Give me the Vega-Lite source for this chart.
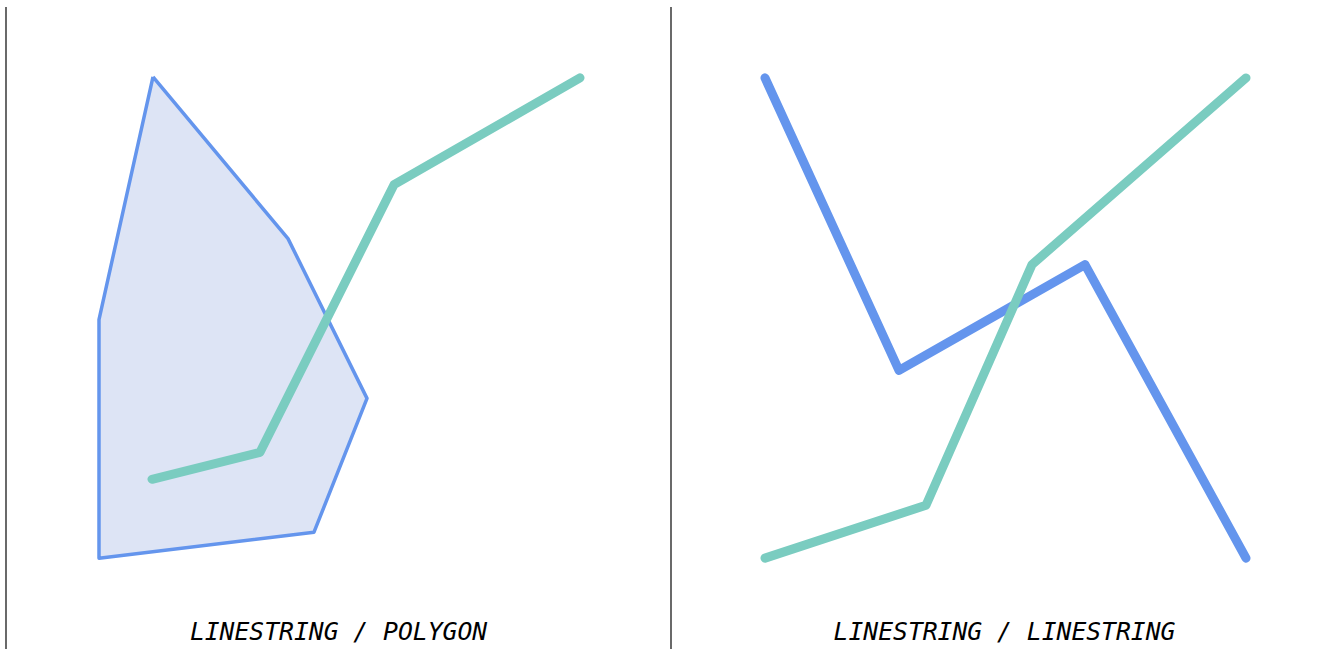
{
  "$schema": "https://vega.github.io/schema/vega-lite/v6.json",
  "width": 1328,
  "height": 650,
  "autosize": {"type": "fit", "contains": "padding"},
  "padding": 0,
  "background": "white",
  "config": {"view": {"stroke": null}},
  "datasets": {
    "shapes": [
      {"geom": "poly", "idx": 0, "x": 153, "y": 77},
      {"geom": "poly", "idx": 1, "x": 288, "y": 239},
      {"geom": "poly", "idx": 2, "x": 367, "y": 399},
      {"geom": "poly", "idx": 3, "x": 314, "y": 533},
      {"geom": "poly", "idx": 4, "x": 99, "y": 559},
      {"geom": "poly", "idx": 5, "x": 99, "y": 320},
      {"geom": "poly", "idx": 6, "x": 153, "y": 77},
      {"geom": "greenA", "idx": 0, "x": 152, "y": 480},
      {"geom": "greenA", "idx": 1, "x": 260, "y": 453},
      {"geom": "greenA", "idx": 2, "x": 394, "y": 185},
      {"geom": "greenA", "idx": 3, "x": 580, "y": 78},
      {"geom": "blueB", "idx": 0, "x": 765, "y": 78},
      {"geom": "blueB", "idx": 1, "x": 899, "y": 371},
      {"geom": "blueB", "idx": 2, "x": 1085, "y": 265},
      {"geom": "blueB", "idx": 3, "x": 1246, "y": 559},
      {"geom": "greenB", "idx": 0, "x": 765, "y": 559},
      {"geom": "greenB", "idx": 1, "x": 926, "y": 506},
      {"geom": "greenB", "idx": 2, "x": 1032, "y": 265},
      {"geom": "greenB", "idx": 3, "x": 1246, "y": 78}
    ],
    "separators": [
      {"x": 6, "y": 7, "y2": 650},
      {"x": 671, "y": 7, "y2": 650}
    ],
    "labels": [
      {"x": 338.5, "y": 641, "label": "LINESTRING / POLYGON"},
      {"x": 1004.5, "y": 641, "label": "LINESTRING / LINESTRING"}
    ]
  },
  "layer": [
    {
      "data": {"name": "separators"},
      "mark": {"type": "rule", "stroke": "#444444", "strokeWidth": 1.6},
      "encoding": {
        "x": {"field": "x", "type": "quantitative", "scale": {"domain": [0, 1328], "nice": false, "zero": false}, "axis": null},
        "y": {"field": "y", "type": "quantitative", "scale": {"domain": [0, 650], "nice": false, "zero": false, "reverse": true}, "axis": null},
        "y2": {"field": "y2"}
      }
    },
    {
      "data": {"name": "shapes"},
      "transform": [{"filter": "datum.geom == 'poly'"}],
      "mark": {"type": "line", "fill": "#dde4f5", "stroke": "#6495ED", "strokeWidth": 3.5, "strokeJoin": "round", "clip": false},
      "encoding": {
        "x": {"field": "x", "type": "quantitative"},
        "y": {"field": "y", "type": "quantitative"},
        "order": {"field": "idx", "type": "quantitative"}
      }
    },
    {
      "data": {"name": "shapes"},
      "transform": [{"filter": "datum.geom == 'blueB'"}],
      "mark": {"type": "line", "stroke": "#6495ED", "strokeWidth": 9, "strokeCap": "round", "strokeJoin": "round", "clip": false},
      "encoding": {
        "x": {"field": "x", "type": "quantitative"},
        "y": {"field": "y", "type": "quantitative"},
        "order": {"field": "idx", "type": "quantitative"}
      }
    },
    {
      "data": {"name": "shapes"},
      "transform": [{"filter": "datum.geom == 'greenA' || datum.geom == 'greenB'"}],
      "mark": {"type": "line", "stroke": "#7ACCC0", "strokeWidth": 9, "strokeCap": "round", "strokeJoin": "round", "clip": false},
      "encoding": {
        "x": {"field": "x", "type": "quantitative"},
        "y": {"field": "y", "type": "quantitative"},
        "detail": {"field": "geom"},
        "order": {"field": "idx", "type": "quantitative"}
      }
    },
    {
      "data": {"name": "labels"},
      "mark": {"type": "text", "font": "DejaVu Sans Mono", "fontStyle": "italic", "fontSize": 24.7, "color": "#000000", "align": "center", "baseline": "alphabetic"},
      "encoding": {
        "x": {"field": "x", "type": "quantitative"},
        "y": {"field": "y", "type": "quantitative"},
        "text": {"field": "label"}
      }
    }
  ]
}
